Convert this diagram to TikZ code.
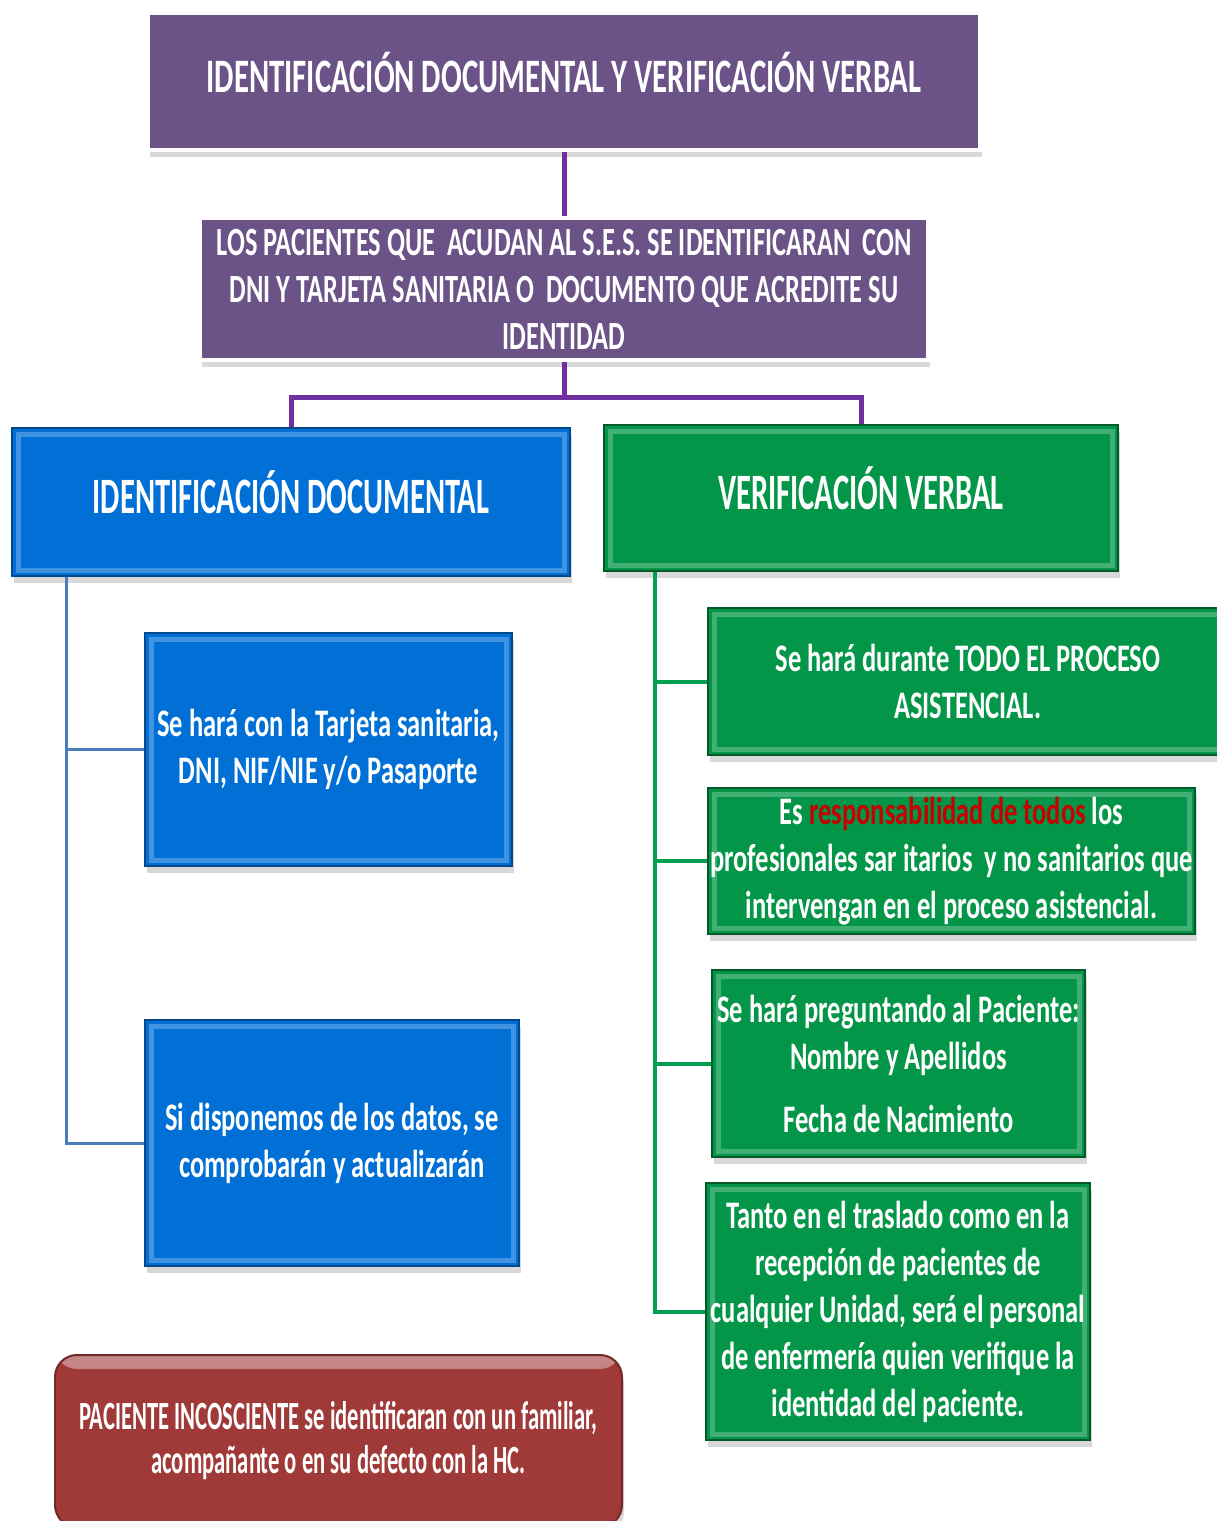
\documentclass[tikz,border=0pt]{standalone}
\usepackage{fontspec}
\newfontfamily\fA[FakeStretch=0.68]{Carlito}
\newfontfamily\fT[FakeStretch=0.64]{Carlito}
\newfontfamily\fS[FakeStretch=0.66]{Carlito}
\newfontfamily\fH[FakeStretch=0.60]{Carlito}
\newfontfamily\fB[FakeStretch=0.565]{Carlito}
\usetikzlibrary{shadows,calc}
\definecolor{purp}{RGB}{107,83,136}
\definecolor{pline}{RGB}{112,48,160}
\definecolor{blu}{RGB}{0,112,214}
\definecolor{bline}{RGB}{74,126,187}
\definecolor{grn}{RGB}{3,150,72}
\definecolor{gline}{RGB}{0,160,80}
\definecolor{redb}{RGB}{160,58,56}
\definecolor{redt}{RGB}{200,0,0}
\begin{document}
\begin{tikzpicture}[x=1pt,y=-1pt,
  box/.style={rectangle, inner sep=0pt, align=center, text=white,
    drop shadow={shadow xshift=2pt, shadow yshift=-7pt, opacity=0.3}},
  pbox/.style={box, fill=purp, draw=white, line width=4pt},
  bevel/.style={path picture={
     \draw[white, opacity=0.25, line width=5pt]
       ($(path picture bounding box.south west)+(6pt,6pt)$) rectangle
       ($(path picture bounding box.north east)+(-6pt,-6pt)$);}},
  bbox/.style={box, fill=blu, draw=blu!65!black, line width=2pt, bevel},
  gbox/.style={box, fill=grn, draw=grn!60!black, line width=2pt, bevel},
  rbox/.style={box, fill=redb, draw=redb!70!black, line width=2pt, rounded corners=22pt,
    path picture={
     \shade[top color=redb!60!white, bottom color=redb]
       (path picture bounding box.north west) rectangle
       ($(path picture bounding box.north east)+(0,-14pt)$);}},
  ttl/.style={font=\fT\bfseries\fontsize{48}{56}\selectfont, text depth=18pt},
  sub/.style={font=\fS\bfseries\fontsize{40}{47}\selectfont},
  hdr/.style={font=\fH\bfseries\fontsize{51}{60}\selectfont, text depth=20pt},
  txt/.style={font=\fA\bfseries\fontsize{39}{47}\selectfont},
  rtxt/.style={font=\fB\bfseries\fontsize{40}{44}\selectfont},
  pconn/.style={draw=pline, line width=5pt},
  bconn/.style={draw=bline, line width=3pt},
  gconn/.style={draw=gline, line width=4pt}
]
\useasboundingbox[fill=white] (0,0) rectangle (1217,1521);

\node[pbox, minimum width=832pt, minimum height=137pt, ttl] (top) at (564,81.5)
  {IDENTIFICACIÓN DOCUMENTAL Y VERIFICACIÓN VERBAL};
\node[pbox, minimum width=728pt, minimum height=142pt, sub] (mid) at (564,289)
  {LOS PACIENTES QUE\ \ ACUDAN AL S.E.S. SE IDENTIFICARAN\ \ CON\\
   DNI Y TARJETA SANITARIA O\ \ DOCUMENTO QUE ACREDITE SU\\
   IDENTIDAD};

\node[bbox, minimum width=558pt, minimum height=148pt, hdr] (bH) at (291,502)
  {IDENTIFICACIÓN DOCUMENTAL};
\node[gbox, minimum width=514pt, minimum height=146pt, hdr] (gH) at (861,498)
  {VERIFICACIÓN VERBAL};

\node[bbox, minimum width=367pt, minimum height=233pt, txt] (b1) at (328.5,749.5)
  {Se hará con la Tarjeta sanitaria,\\ DNI, NIF/NIE y/o Pasaporte};
\node[bbox, minimum width=374pt, minimum height=246pt, txt] (b2) at (332,1143)
  {Si disponemos de los datos, se\\ comprobarán y actualizarán};

\node[gbox, minimum width=520pt, minimum height=147pt, txt] (g1) at (968,681.5)
  {Se hará durante TODO EL PROCESO\\ ASISTENCIAL.};
\node[gbox, minimum width=487pt, minimum height=146pt, txt] (g2) at (951.5,861)
  {Es \textcolor{redt}{responsabilidad de todos} los\\
   profesionales sar itarios\ \ y no sanitarios que\\
   intervengan en el proceso asistencial.};
\node[gbox, minimum width=373pt, minimum height=187pt, txt] (g3) at (898.5,1063.5)
  {Se hará preguntando al Paciente:\\ Nombre y Apellidos\\[16pt] Fecha de Nacimiento};
\node[gbox, minimum width=384pt, minimum height=257pt, txt] (g4) at (898,1311.5)
  {Tanto en el traslado como en la\\ recepción de pacientes de\\
   cualquier Unidad, será el personal\\ de enfermería quien verifique la\\
   identidad del paciente.};

\node[rbox, minimum width=567pt, minimum height=172pt, rtxt] (red) at (338.5,1441)
  {PACIENTE INCOSCIENTE se identificaran con un familiar,\\
   acompañante o en su defecto con la HC.};

% purple connectors
\coordinate (j) at ($(mid.south)+(0,35)$);
\draw[pconn] (top.south) -- (mid.north);
\draw[pconn] (mid.south) -- (j);
\draw[pconn] (bH.north) |- (j) -| (gH.north);

% blue connectors
\coordinate (bx) at ($(bH.south west)+(55,0)$);
\draw[bconn] (bx) |- (b2.west);
\draw[bconn] (b1.west) -- (b1.west -| bx);

% green connectors
\coordinate (gx) at ($(gH.south west)+(52,0)$);
\draw[gconn] (gx) |- (g4.west);
\draw[gconn] (g1.west) -- (g1.west -| gx);
\draw[gconn] (g2.west) -- (g2.west -| gx);
\draw[gconn] (g3.west) -- (g3.west -| gx);
\end{tikzpicture}
\end{document}
